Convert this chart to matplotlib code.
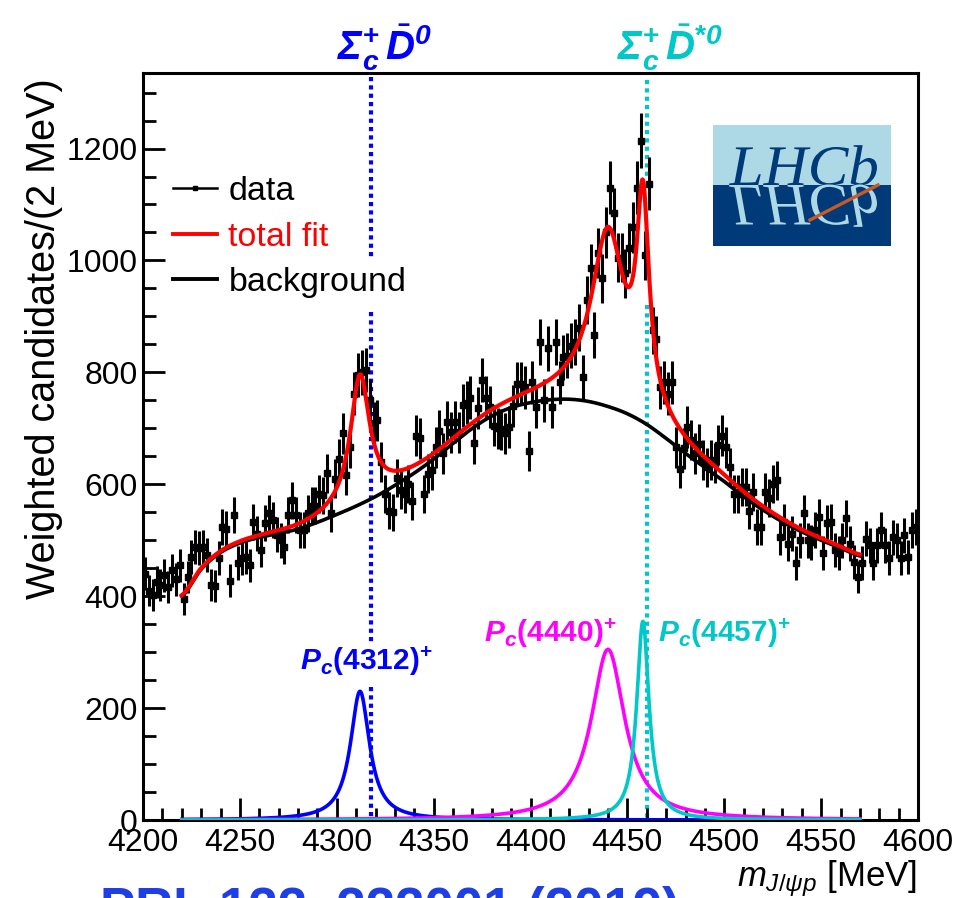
import numpy as np
import matplotlib
matplotlib.use('Agg')
import matplotlib.pyplot as plt
from matplotlib.lines import Line2D
from matplotlib.textpath import TextPath
from matplotlib.patches import PathPatch, Rectangle
from matplotlib.font_manager import FontProperties
from matplotlib.transforms import Affine2D

plt.rcParams['font.family'] = ['Liberation Sans', 'DejaVu Sans']
plt.rcParams['mathtext.fontset'] = 'custom'
plt.rcParams['mathtext.rm'] = 'Liberation Sans'
plt.rcParams['mathtext.it'] = 'Liberation Sans:italic'
plt.rcParams['mathtext.bf'] = 'Liberation Sans:bold'
plt.rcParams['mathtext.bfit'] = 'Liberation Sans:italic:bold'

# ---------------- data ----------------
bin_width = 2
bin_centers = np.arange(4201, 4600, bin_width)   # m(J/psi p) bin centres [MeV]
counts = [
    440, 410, 402, 425, 420, 437, 416, 446, 430, 455,
    395, 434, 470, 488, 486, 488, 473, 420, 418, 468,
    523, 520, 428, 545, 459, 468, 470, 455, 532, 512,
    482, 530, 548, 536, 510,
    500, 488, 545, 571, 545, 518, 518, 548, 562, 562,
    583, 580, 620, 548, 610, 646, 691, 616, 666, 762,
    795, 800, 804, 750, 709, 714, 640, 583, 553, 550, 611,
    589, 583, 601, 570, 687, 682, 583, 619, 625, 666,
    696, 655, 711, 693, 711, 693, 741, 746, 755, 673,
    736, 786, 755, 738, 705, 700, 698, 691, 702, 740,
    780, 780, 773, 660,
    782, 738, 854, 750, 843, 738, 854, 782, 827, 830, 848,
    854, 880, 791, 929, 986, 866, 1014, 968, 1050, 1130,
    1084, 1005, 1005, 977, 1023, 1059, 1130, 1214, 1009, 1137,
    875, 860, 773, 782, 762, 782, 666, 628, 664, 702,
    679, 655, 672, 643, 630, 643, 638, 670, 687, 666,
    630, 583, 583, 595, 595, 553, 586, 523, 523, 586, 575, 601,
    607, 505, 532, 494, 512, 459, 500, 548, 500, 496,
    518, 541, 477, 530, 532, 482, 477, 500, 539, 494,
    461, 434, 459, 503, 491, 459, 491, 518, 491, 468,
    505, 500, 468, 509, 470, 518, 523,
]
err_scale = 1.4   # weighted-candidate error ~ scale*sqrt(N)

bg_mass = [4220, 4230, 4240, 4250, 4260, 4270, 4280, 4290, 4300, 4310,
           4320, 4330, 4340, 4350, 4360, 4370, 4380, 4390, 4400, 4410,
           4420, 4430, 4440, 4450, 4460, 4470, 4480, 4490, 4500, 4510,
           4520, 4530, 4540, 4550, 4560, 4570]
bg_vals = [400, 448, 478, 495, 505, 512, 520, 532, 546, 561,
           578, 598, 620, 645, 673, 700, 722, 737, 746, 751,
           752, 748, 739, 726, 707, 682, 655, 630, 605, 578,
           554, 533, 515, 500, 486, 472]

pc_labels = ['4312', '4440', '4457']
pc_mass = [4312.0, 4440.0, 4458.0]
pc_fwhm = [12.0, 21.0, 7.7]
pc_peak = [230.0, 305.0, 355.0]
pc_colors = ['#0000ff', '#ff00ff', '#00c8c8']

thresholds = [4317.7, 4459.9]
fit_range = (4220, 4570)

# ---------------- helpers ----------------
def catmull(xk, yk, xs):
    xk = np.asarray(xk, float); yk = np.asarray(yk, float)
    h = xk[1] - xk[0]; n = len(xk)
    i = np.clip(((xs - xk[0]) // h).astype(int), 0, n - 2)
    t = (xs - xk[i]) / h
    p0 = yk[np.clip(i - 1, 0, n - 1)]; p1 = yk[i]; p2 = yk[i + 1]
    p3 = yk[np.clip(i + 2, 0, n - 1)]
    return 0.5 * ((2 * p1) + (-p0 + p2) * t + (2 * p0 - 5 * p1 + 4 * p2 - p3) * t ** 2
                  + (-p0 + 3 * p1 - 3 * p2 + p3) * t ** 3)

def bw(m, M, G, A):
    return A / (1.0 + ((m - M) / (G / 2.0)) ** 2)

W, H = 968, 898
fig = plt.figure(figsize=(W / 100, H / 100), dpi=100)
def fx(x): return x / W
def fy(y): return 1 - y / H

ax = fig.add_axes([fx(143), fy(820), (918 - 143) / W, (820 - 73) / H])
ax.set_xlim(4200, 4600)
ax.set_ylim(0, 1335)

def yv(ypx):  # pixel row -> data value
    return (820 - ypx) / (820 - 73) * 1335

# threshold dotted lines (with gaps like the original)
blue_segs = [(yv(77), yv(260)), (yv(312), yv(642)), (yv(687), 0)]
cyan_segs = [(yv(80), yv(177)), (yv(305), 0)]
for (a, b) in blue_segs:
    ax.plot([thresholds[0]] * 2, [a, b], color='#0000ff', lw=3.0,
            ls=(0, (1, 1.0)), zorder=1)
for (a, b) in cyan_segs:
    ax.plot([thresholds[1]] * 2, [a, b], color='#00c8c8', lw=3.0,
            ls=(0, (1, 1.0)), zorder=1)

# data
cnt = np.array(counts, float)
ax.errorbar(bin_centers, cnt, yerr=err_scale * np.sqrt(cnt), fmt='s', color='black',
            ms=4.2, elinewidth=2.2, capsize=0, zorder=3)

# curves
mm = np.linspace(fit_range[0], fit_range[1], 1751)
bg_curve = catmull(bg_mass, bg_vals, mm)
comps = [bw(mm, M, G, A) for M, G, A in zip(pc_mass, pc_fwhm, pc_peak)]
total = bg_curve + sum(comps)
for c, col in zip(comps, pc_colors):
    ax.plot(mm, c, color=col, lw=2.6, zorder=4)
ax.plot(mm, bg_curve, color='black', lw=2.6, zorder=5)
ax.plot(mm, total, color='red', lw=3.0, zorder=6)

# axes style
for s in ax.spines.values():
    s.set_linewidth(2.2)
ax.set_xticks(np.arange(4200, 4601, 50))
ax.set_xticks(np.arange(4200, 4601, 10), minor=True)
ax.set_yticks(np.arange(0, 1201, 200))
ax.set_yticks(np.arange(0, 1301, 50), minor=True)
ax.tick_params(which='both', direction='in', top=False, right=False, width=2.0,
               labelsize=23)
ax.tick_params(which='major', length=16)
ax.tick_params(which='minor', length=9)
ax.tick_params(axis='y', pad=4)
ax.tick_params(axis='x', pad=6)

ax.set_ylabel('Weighted candidates/(2 MeV)', fontsize=28.5, loc='top')
ax.yaxis.set_label_coords(-0.103, 0.993)
fig.text(fx(917), fy(886), r'$m_{J/\psi p}$ [MeV]', fontsize=25, ha='right',
         va='baseline')

# threshold labels
fig.text(fx(385), fy(60), r'$\mathbfit{\Sigma}_{\mathbfit{c}}^{\mathbf{+}}\,\bar{\mathbfit{D}}^{\mathbfit{0}}$',
         fontsize=29, color='#0000ff', ha='center', va='baseline')
fig.text(fx(670), fy(60), r'$\mathbfit{\Sigma}_{\mathbfit{c}}^{\mathbf{+}}\,\bar{\mathbfit{D}}^{\mathbf{*}\mathbfit{0}}$',
         fontsize=29, color='#00c8c8', ha='center', va='baseline')

# Pc labels
fig.text(fx(300), fy(670), r'$\mathbfit{P}_{\mathbfit{c}}\mathbf{(%s)}^{\mathbf{+}}$' % pc_labels[0],
         fontsize=21.5, color=pc_colors[0], ha='left', va='baseline')
fig.text(fx(617), fy(642), r'$\mathbfit{P}_{\mathbfit{c}}\mathbf{(%s)}^{\mathbf{+}}$' % pc_labels[1],
         fontsize=21.5, color=pc_colors[1], ha='right', va='baseline')
fig.text(fx(658), fy(642), r'$\mathbfit{P}_{\mathbfit{c}}\mathbf{(%s)}^{\mathbf{+}}$' % pc_labels[2],
         fontsize=21.5, color=pc_colors[2], ha='left', va='baseline')

# legend
handles = [Line2D([], [], color='black', lw=1.8, marker='s', ms=3.5),
           Line2D([], [], color='red', lw=2.8),
           Line2D([], [], color='black', lw=2.8)]
leg = ax.legend(handles, ['data', 'total fit', 'background'], fontsize=24.5,
                frameon=False, loc='upper left', handlelength=1.3, handletextpad=0.33,
                labelspacing=0.43, borderpad=0, borderaxespad=0,
                bbox_to_anchor=(fx(173), fy(176)), bbox_transform=fig.transFigure)
leg.get_texts()[1].set_color('red')

# LHCb logo
lax = fig.add_axes([fx(713), fy(246), (891 - 713) / W, (246 - 125) / H])
lax.set_xlim(0, 178); lax.set_ylim(0, 121); lax.axis('off')
lax.add_patch(Rectangle((0, 61), 178, 60, color='#add8e6', lw=0))
lax.add_patch(Rectangle((0, 0), 178, 61, color='#003a78', lw=0))
tp = TextPath((0, 0), 'LHCb', size=1, prop=FontProperties(family='Liberation Serif', style='italic'))
ext = tp.get_extents()
sx = 148 / ext.width
sy = 38 / 0.662
top_t = Affine2D().translate(-ext.x0, 0).scale(sx, sy).translate(16, 61)
bot_t = Affine2D().translate(-ext.x0, 0).scale(sx, -sy * 1.05).translate(16, 61)
lax.add_patch(PathPatch(top_t.transform_path(tp), color='#003a78', lw=0))
lax.add_patch(PathPatch(bot_t.transform_path(tp), color='#add8e6', lw=0))
lax.plot([97, 165], [26, 61], color='#c85a28', lw=2.4)

# reference line at bottom (cut off)
fig.text(fx(100), fy(886), 'PRL 122, 222001 (2019)', fontsize=38, fontweight='bold',
         color='#1f3fe6', ha='left', va='top')

fig.savefig('out.png', dpi=100)
